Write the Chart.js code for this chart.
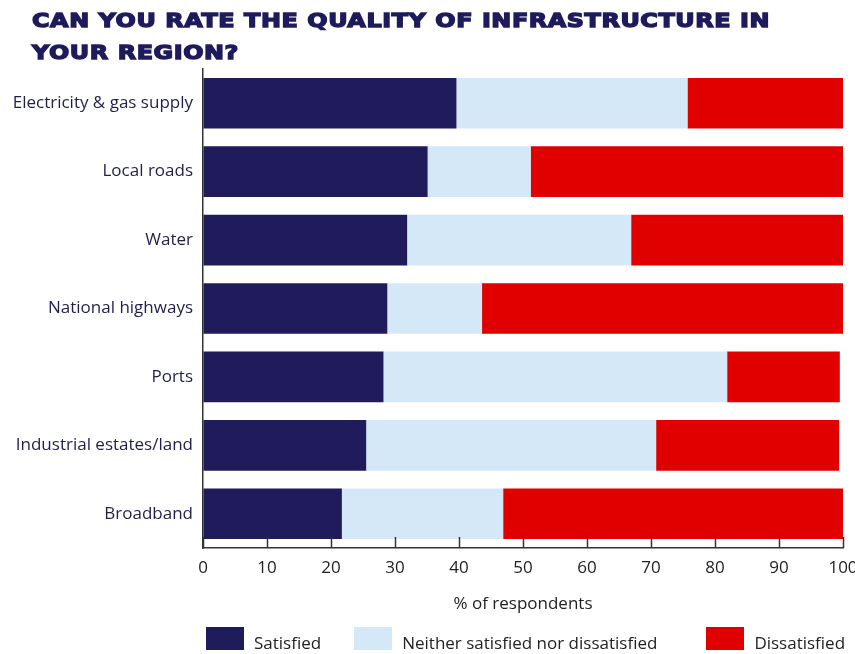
<!DOCTYPE html>
<html>
<head>
<meta charset="utf-8">
<script src="https://cdn.jsdelivr.net/npm/chart.js@4"></script>
<style>
  html, body { margin: 0; padding: 0; background: #fff; overflow: hidden; }
  #wrap { position: relative; width: 855px; height: 654px; }
  #titulo {
    position: absolute; left: 32px; top: 4px; margin: 0;
    font-family: "DejaVu Sans", sans-serif;
    font-weight: bold; font-size: 20px; line-height: 32px;
    color: #1e1b5c; -webkit-text-stroke: 1.4px #1e1b5c;
    letter-spacing: 0.5px; white-space: nowrap;
    transform-origin: 0 0;
  }
  #legenda {
    position: absolute; left: 206px; top: 627px;
    display: flex; align-items: flex-end; gap: 33px;
    font-family: "Open Sans", sans-serif; font-size: 17px; color: #222;
  }
  #legenda .item { display: flex; align-items: flex-end; }
  #legenda .item:nth-child(3) { margin-left: 16px; }
  #legenda .caixa { width: 38px; height: 23px; margin-right: 10px; }
  #legenda span { line-height: 20px; position: relative; top: 3px; }
</style>
</head>
<body>
<div id="wrap">
  <h1 id="titulo"><span id="linha1">CAN YOU RATE THE QUALITY OF INFRASTRUCTURE IN</span><br>YOUR REGION?</h1>
  <canvas id="grafico"></canvas>
  <div id="legenda"></div>
</div>
<script>
const categorias = ["Electricity & gas supply", "Local roads", "Water", "National highways", "Ports", "Industrial estates/land", "Broadband"];
const satisfeitos = [39.6, 35.1, 31.9, 28.8, 28.2, 25.5, 21.7];
const neutros = [36.1, 16.1, 35.0, 14.8, 53.7, 45.3, 25.2];
const insatisfeitos = [24.3, 48.8, 33.1, 56.4, 17.6, 28.6, 53.1];
const ticksX = [0, 10, 20, 30, 40, 50, 60, 70, 80, 90, 100];

// título largo: estica a primeira linha até 738px
const titulo = document.getElementById("titulo");
const larguraLinha = document.getElementById("linha1").getBoundingClientRect().width;
titulo.style.transform = `scaleX(${738 / larguraLinha})`;

// marcas do eixo x viradas para dentro da área do gráfico
const marcasInternas = {
    id: "marcasInternas",
    afterDatasetsDraw(chart) {
        const ctx = chart.ctx;
        const escala = chart.scales.x;
        const base = chart.chartArea.bottom;
        ctx.save();
        ctx.strokeStyle = "#333";
        ctx.lineWidth = 1.5;
        escala.ticks.forEach((t, i) => {
            const px = Math.round(escala.getPixelForTick(i)) + 0.5;
            ctx.beginPath();
            ctx.moveTo(px, base - 11);
            ctx.lineTo(px, base);
            ctx.stroke();
        });
        ctx.restore();
    }
};

const grafico = new Chart(document.getElementById("grafico"), {
    type: "bar",
    data: {
        labels: categorias,
        datasets: [
            { label: "Satisfied", data: satisfeitos, backgroundColor: "#201c5c" },
            { label: "Neither satisfied nor dissatisfied", data: neutros, backgroundColor: "#d5e8f8" },
            { label: "Dissatisfied", data: insatisfeitos, backgroundColor: "#e00000" }
        ]
    },
    options: {
        indexAxis: "y",
        responsive: true,
        maintainAspectRatio: false,
        animation: false,
        barPercentage: 0.74,
        categoryPercentage: 1,
        layout: { padding: { top: 69, right: 12, left: 12, bottom: 36 } },
        scales: {
            x: {
                stacked: true,
                min: 0,
                max: 100,
                afterBuildTicks: (escala) => { escala.ticks = ticksX.map(v => ({ value: v })); },
                // altura fixa e o "100" pode sair pela borda direita
                afterFit: (escala) => { escala.height = 70; escala.paddingRight = 0; },
                grid: { display: true, drawOnChartArea: false, drawTicks: false },
                border: { display: true, color: "#333", width: 1.5 },
                ticks: {
                    padding: 10,
                    color: "#222",
                    font: { family: "Open Sans", size: 17 }
                },
                title: {
                    display: true,
                    text: "% of respondents",
                    color: "#222",
                    font: { family: "Open Sans", size: 17 },
                    padding: { top: 5, bottom: 4 }
                }
            },
            y: {
                stacked: true,
                afterFit: (escala) => { escala.width = 191; },
                grid: { display: false, drawTicks: false },
                border: { display: true, color: "#333", width: 1.5 },
                ticks: {
                    padding: 10,
                    color: "#1f1f4a",
                    font: { family: "Open Sans", size: 17 }
                }
            }
        },
        plugins: {
            legend: { display: false },
            tooltip: { enabled: false }
        }
    },
    plugins: [marcasInternas]
});

// legenda em HTML montada a partir dos datasets
const legenda = document.getElementById("legenda");
grafico.data.datasets.forEach((ds) => {
    const item = document.createElement("div");
    item.className = "item";
    const caixa = document.createElement("div");
    caixa.className = "caixa";
    caixa.style.background = ds.backgroundColor;
    const texto = document.createElement("span");
    texto.textContent = ds.label;
    item.appendChild(caixa);
    item.appendChild(texto);
    legenda.appendChild(item);
});
</script>
</body>
</html>
